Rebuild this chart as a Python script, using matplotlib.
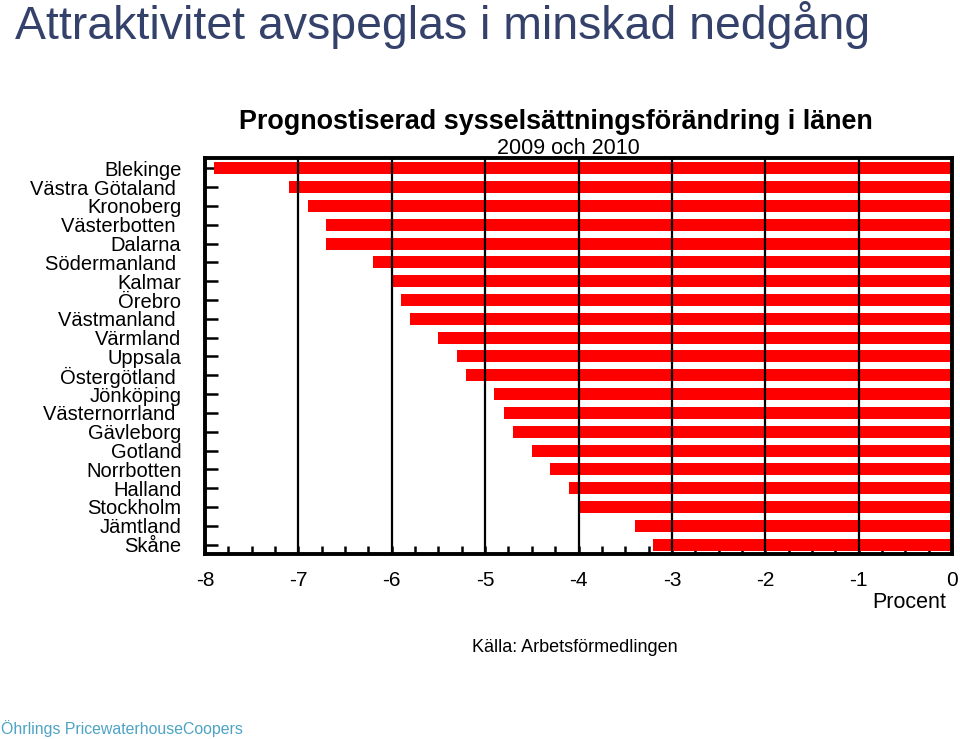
import matplotlib
matplotlib.use("Agg")
import matplotlib.pyplot as plt
from matplotlib.ticker import MultipleLocator

plt.rcParams["font.family"] = ["Liberation Sans", "DejaVu Sans"]

# Län, uppifrån och ned
lan = ["Blekinge", "Västra Götaland ", "Kronoberg", "Västerbotten ", "Dalarna",
       "Södermanland ", "Kalmar", "Örebro", "Västmanland ", "Värmland",
       "Uppsala", "Östergötland ", "Jönköping", "Västernorrland ", "Gävleborg",
       "Gotland", "Norrbotten", "Halland", "Stockholm", "Jämtland", "Skåne"]
# Prognostiserad förändring, procent
andring = [-7.9, -7.1, -6.9, -6.7, -6.7, -6.2, -6.0, -5.9, -5.8, -5.5,
           -5.3, -5.2, -4.9, -4.8, -4.7, -4.5, -4.3, -4.1, -4.0, -3.4, -3.2]
xticks = [-8, -7, -6, -5, -4, -3, -2, -1, 0]

fig = plt.figure(figsize=(9.6, 7.39), dpi=100)
ax = fig.add_axes([205 / 960, 1 - 554 / 739, 747 / 960, 396 / 739])

ypos = list(range(len(lan)))
ax.barh(ypos, andring, height=0.64, color="#ff0000", zorder=2)

# vertical grid lines drawn on top of the bars
for x in xticks[1:-1]:
    ax.axvline(x, color="black", linewidth=1.6, zorder=3)

ax.set_xlim(-8, 0)
ax.set_ylim(20.5, -0.55)
ax.set_xticks(xticks)
ax.set_xticklabels([str(v) for v in xticks], fontsize=15)
ax.xaxis.set_minor_locator(MultipleLocator(0.25))
ax.set_yticks(ypos)
ax.set_yticklabels(lan, fontsize=14.5)

ax.tick_params(axis="y", direction="in", length=9, width=1.8, pad=17, left=True)
ax.tick_params(axis="x", which="major", direction="in", length=6, width=1.8, pad=12)
ax.tick_params(axis="x", which="minor", direction="in", length=6, width=1.8)
for s in ax.spines.values():
    s.set_linewidth(2.8)
    s.set_zorder(4)

fig.text(15 / 960, 1 - 25 / 739, "Attraktivitet avspeglas i minskad nedgång",
         fontsize=33.4, color="#34416b", va="center", ha="left")
fig.text(556 / 960, 1 - 122 / 739, "Prognostiserad sysselsättningsförändring i länen",
         fontsize=19.4, fontweight="bold", ha="center", va="center")
fig.text(568 / 960, 1 - 148 / 739, "2009 och 2010",
         fontsize=15.5, ha="center", va="center")
fig.text(946 / 960, 1 - 602 / 739, "Procent",
         fontsize=15.5, ha="right", va="center")
fig.text(575 / 960, 1 - 648 / 739, "Källa: Arbetsförmedlingen",
         fontsize=13, ha="center", va="center")
fig.text(1 / 960, 1 - 729 / 739, "Öhrlings PricewaterhouseCoopers",
         fontsize=11.4, color="#4da3c4", ha="left", va="center")

fig.savefig("out.png", dpi=100)
